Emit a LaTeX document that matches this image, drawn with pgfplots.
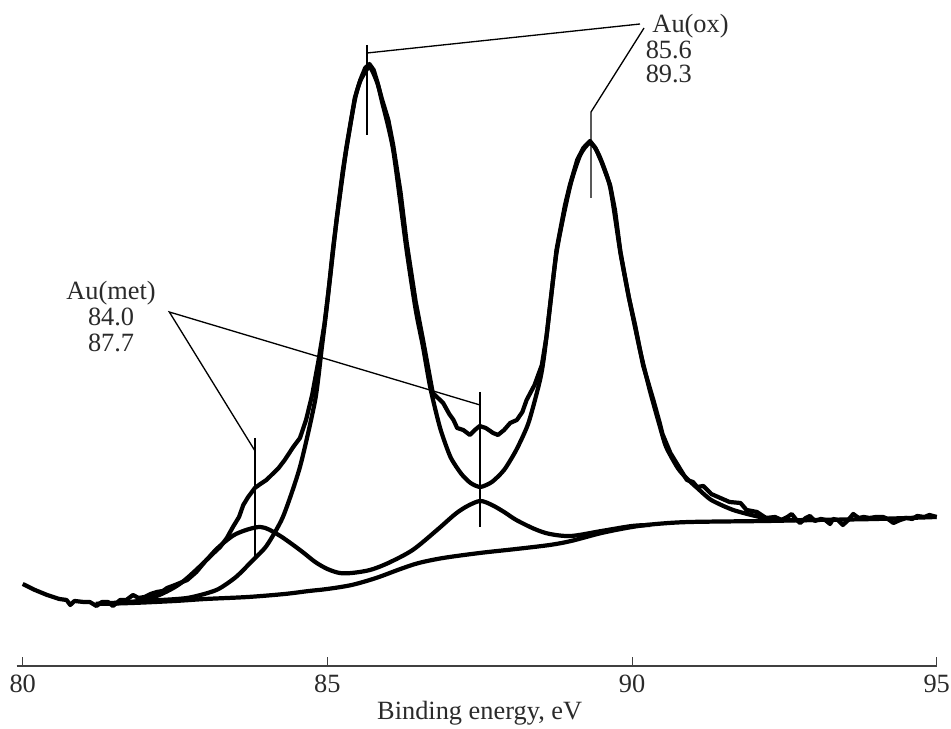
\documentclass[border=0pt]{standalone}
\usepackage{fontspec}
\setmainfont{Liberation Serif}
\usepackage{pgfplots}
\pgfplotsset{compat=1.18}
\definecolor{axisgray}{HTML}{404040}
\definecolor{txtgray}{HTML}{2A2A2A}
\newcommand{\lbl}{\fontsize{15}{15}\selectfont}

\begin{document}
\begin{tikzpicture}
\begin{axis}[
  scale only axis,
  width=18.28cm, height=13.32cm,
  xmin=80, xmax=95, ymin=-6, ymax=660,
  axis x line=bottom, axis y line=none,
  axis line style={-, draw=axisgray, line width=1.1pt},
  xtick={80,85,90,95},
  tick align=inside,
  major tick length=0.18cm,
  xtick style={draw=axisgray, line width=0.6pt},
  /pgf/number format/assume math mode=true,
  xticklabel style={font=\lbl, text=txtgray, anchor=base, yshift=-0.54cm},
  xlabel={Binding energy, eV},
  xlabel style={font=\lbl, text=txtgray, at={(axis description cs:0.5,0)}, anchor=base, yshift=-1.08cm},
  clip=false,
]
  % raw spectrum
  \addplot[black, line width=2.4pt, line join=round] coordinates {
    (80.00,76)(80.2,70)(80.4,65)(80.6,61)(80.72,60)(80.78,55)(80.85,59)(81.0,58)
    (81.1,58)(81.21,54)(81.3,58)(81.4,58)(81.48,54)(81.6,60)(81.7,60)(81.81,65)
    (81.9,62)(82.0,63)(82.1,66)(82.2,68)(82.3,69)(82.37,72)(82.5,75)(82.7,80)
    (82.85,88)(83.0,99)(83.1,105)(83.24,113)(83.35,122)(83.45,133)(83.55,143)
    (83.62,155)(83.7,163)(83.81,172)(83.9,176)(84.0,180)(84.1,186)(84.2,192)
    (84.3,200)(84.44,213)(84.55,222)(84.65,240)(84.75,265)(84.85,298)(84.95,335)
    (85.05,385)(85.15,440)(85.25,488)(85.31,512)(85.45,562)(85.54,580)(85.62,592)
    (85.69,596)(85.76,590)(85.82,578)(85.89,562)(86.0,540)(86.08,515)(86.2,468)
    (86.30,418)(86.45,358)(86.57,320)(86.73,267)(86.9,257)(87.0,246)(87.07,240)
    (87.13,232)(87.23,230)(87.34,225)(87.42,230)(87.5,234)(87.6,232)(87.72,227)
    (87.8,225)(87.9,230)(88.0,237)(88.11,240)(88.2,248)(88.27,260)(88.4,275)
    (88.52,295)(88.6,325)(88.76,410)(88.9,455)(88.98,475)(89.1,500)(89.2,512)
    (89.31,519)(89.4,512)(89.5,498)(89.64,475)(89.72,450)(89.81,408)(89.95,362)
    (90.05,335)(90.18,295)(90.35,260)(90.45,238)(90.5,226)(90.63,207)(90.75,195)
    (90.9,180)(91.0,178)(91.07,173)(91.17,174)(91.3,166)(91.45,162)(91.6,158)
    (91.78,157)(91.88,150)(92.05,148)(92.2,142)(92.35,143)(92.45,140)(92.55,143)
    (92.62,146)(92.7,140)(92.76,137)(92.85,142)(92.92,144)(93.0,139)(93.1,141)
    (93.17,140)(93.25,136)(93.3,141)(93.38,140)(93.46,135)(93.55,140)(93.63,146)
    (93.72,142)(93.8,143)(93.9,142)(94.0,143)(94.12,143)(94.2,141)(94.29,137)
    (94.4,140)(94.5,142)(94.6,141)(94.68,144)(94.8,143)(94.88,145)(94.94,144)(95.0,143)
  };
  % Au(ox) component
  \addplot[black, line width=2.4pt, smooth, tension=0.4] coordinates {
    (81.2,56)(82.0,59)(82.7,62)(83.18,70)(83.5,83)(83.78,100)(84.0,114)(84.27,143)
    (84.55,193)(84.8,260)(84.91,313)(85.0,358)(85.09,410)(85.2,462)(85.31,510)
    (85.45,560)(85.54,579)(85.69,593)(85.82,577)(85.89,560)(86.08,510)(86.3,410)
    (86.45,350)(86.57,313)(86.69,272)(86.85,232)(87.02,203)(87.2,186)(87.35,177)
    (87.51,173)(87.7,178)(87.9,190)(88.1,210)(88.3,237)(88.49,280)(88.57,310)
    (88.76,407)(88.98,473)(89.15,505)(89.31,517)(89.45,506)(89.64,473)(89.81,407)
    (89.95,362)(90.13,310)(90.29,270)(90.45,235)(90.56,213)(90.75,192)(90.89,182)
    (91.07,172)(91.3,160)(91.66,150)(92.1,143)(92.5,140)(93.0,140)
  };
  % Au(met) component
  \addplot[black, line width=2.4pt, smooth, tension=0.5] coordinates {
    (81.2,56)(81.8,58)(82.2,64)(82.5,73)(82.7,82)(83.0,99)(83.2,112)(83.5,126)
    (83.9,133)(84.2,125)(84.55,110)(84.8,98)(85.0,91)(85.2,87)(85.4,87)(85.7,90)
    (86.0,97)(86.4,110)(86.8,130)(87.1,146)(87.3,154)(87.51,159)(87.7,155)
    (87.9,148)(88.1,140)(88.4,131)(88.65,126)(89.0,124)(89.5,129)(90.0,134)(90.3,135)
  };
  % background
  \addplot[black, line width=2.4pt, smooth, tension=0.5] coordinates {
    (81.2,56)(81.8,57)(82.5,59)(83.0,61)(83.7,63)(84.3,66)(84.7,69)(85.0,71)
    (85.4,75)(85.8,82)(86.2,91)(86.5,97)(86.9,102)(87.5,107)(88.1,111)(88.65,115)
    (89.0,119)(89.5,127)(90.0,133)(90.4,136)(90.95,138)(92.2,139)(93.0,140)
    (94.0,141)(95.0,143)
  };

  % leader lines
  \draw[black, line width=0.75pt] (axis cs:90.131,636) -- (axis cs:85.651,607);
  \draw[black, line width=0.75pt] (axis cs:85.651,615) -- (axis cs:85.651,525);
  \draw[black, line width=0.75pt] (axis cs:90.197,632) -- (axis cs:89.327,548) -- (axis cs:89.327,462);
  \draw[black, line width=0.75pt] (axis cs:83.813,209) -- (axis cs:82.406,348) -- (axis cs:87.505,255);
  \draw[black, line width=0.75pt] (axis cs:83.813,222) -- (axis cs:83.813,100);
  \draw[black, line width=0.75pt] (axis cs:87.505,268) -- (axis cs:87.505,133);
  \draw[axisgray, line width=1.1pt] (axis cs:79.9,-6) -- (axis cs:80,-6);

  % labels
  \node[font=\lbl, text=txtgray, anchor=base west, inner sep=0pt] at (axis cs:90.33,627) {Au(ox)};
  \node[font=\lbl, text=txtgray, anchor=base west, inner sep=0pt] at (axis cs:90.22,601) {85.6};
  \node[font=\lbl, text=txtgray, anchor=base west, inner sep=0pt] at (axis cs:90.22,577) {89.3};
  \node[font=\lbl, text=txtgray, anchor=base, inner sep=0pt] at (axis cs:81.45,360) {Au(met)};
  \node[font=\lbl, text=txtgray, anchor=base, inner sep=0pt] at (axis cs:81.45,334) {84.0};
  \node[font=\lbl, text=txtgray, anchor=base, inner sep=0pt] at (axis cs:81.45,308) {87.7};

  \coordinate (bbl) at (axis cs:79.627,-69);
  \coordinate (bbr) at (axis cs:95.235,660);
\end{axis}
\pgfresetboundingbox
\path[use as bounding box] (bbl) rectangle (bbr);
\end{tikzpicture}
\end{document}
